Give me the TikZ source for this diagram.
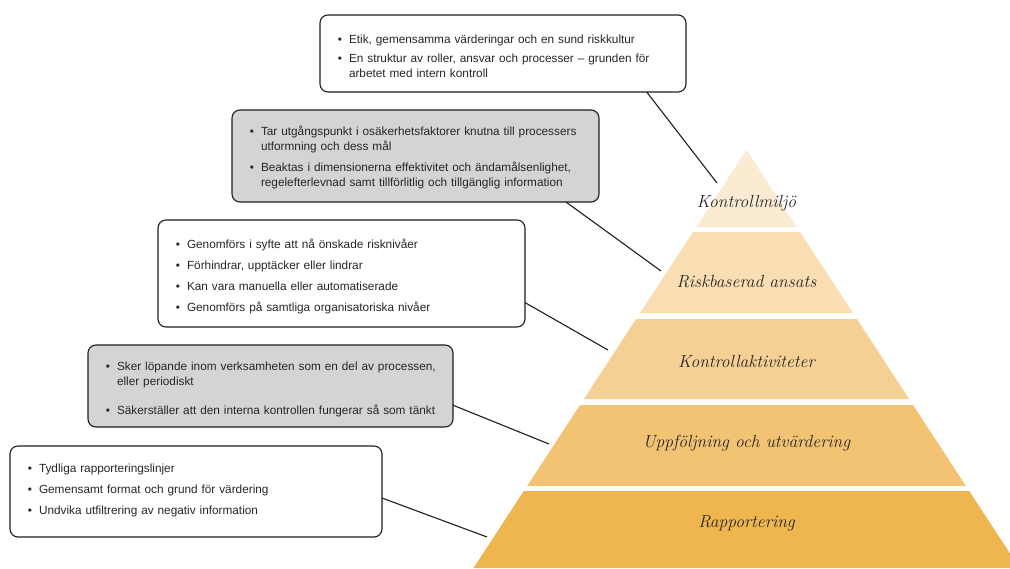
\documentclass[tikz,border=0pt]{standalone}
\usepackage{fontspec}
\setsansfont{Liberation Sans}
\usetikzlibrary{positioning}

\definecolor{niva1}{HTML}{FAEBD3}
\definecolor{niva2}{HTML}{F8DEB2}
\definecolor{niva3}{HTML}{F5D094}
\definecolor{niva4}{HTML}{F2C373}
\definecolor{niva5}{HTML}{EFB54E}
\definecolor{gratt}{HTML}{D4D4D6}
\definecolor{kant}{HTML}{1E1E1E}

\newenvironment{punkter}[1][6pt]{%
    \begin{list}{\textbullet}{%
        \setlength{\leftmargin}{21pt}\setlength{\labelwidth}{10pt}%
        \setlength{\labelsep}{7pt}\setlength{\rightmargin}{-6pt}%
        \setlength{\itemsep}{#1}\setlength{\parsep}{0pt}%
        \setlength{\topsep}{0pt}\setlength{\partopsep}{0pt}}}%
    {\end{list}}

\tikzset{
    ruta/.style={draw=kant, line width=1.1pt, rounded corners=8pt, fill=white,
        inner xsep=8pt, inner ysep=4pt, outer sep=0pt, anchor=north west, align=left,
        text=black!85, font=\sffamily\fontsize{11.8}{15}\selectfont},
    gruta/.style={ruta, fill=gratt},
    etikett/.style={anchor=base, text=black!85, font=\itshape\fontsize{17.5}{20}\selectfont},
    linje/.style={draw=kant, line width=1.1pt}
}

\begin{document}
\begin{tikzpicture}[x=1pt,y=-1pt]
    \clip (0,0) rectangle (1010,568);
    \fill[white] (0,0) rectangle (1010,568);

    \fill[niva1] (746.5,150) -- (796.8,227) -- (696.2,227) -- cycle;
    \fill[niva2] (693.0,232) -- (800.0,232) -- (852.9,313) -- (640.1,313) -- cycle;
    \fill[niva3] (636.1,319) -- (856.9,319) -- (909.1,399) -- (583.9,399) -- cycle;
    \fill[niva4] (580.0,405) -- (913.0,405) -- (965.9,486) -- (527.1,486) -- cycle;
    \fill[niva5] (523.8,491) -- (969.2,491) -- (1019.5,568) -- (473.5,568) -- cycle;

    \node[etikett] (miljo)     at (746.5,207) {Kontrollmiljö};
    \node[etikett] (risk)      at (746.5,287) {Riskbaserad ansats};
    \node[etikett] (aktivitet) at (746.5,367) {Kontrollaktiviteter};
    \node[etikett] (uppfolj)   at (746.5,447) {Uppföljning och utvärdering};
    \node[etikett] (rapport)   at (746.5,527) {Rapportering};

    \node[ruta, text width=350pt, minimum height=77pt] (miljoruta) at (320,15) {%
        \begin{punkter}[4pt]
        \item Etik, gemensamma värderingar och en sund riskkultur
        \item En struktur av roller, ansvar och processer – grunden för\\arbetet med intern kontroll
        \end{punkter}};
    \node[gruta, text width=351pt, minimum height=92pt] (riskruta) at (232,110) {%
        \begin{punkter}[6pt]
        \item Tar utgångspunkt i osäkerhetsfaktorer knutna till processers\\utformning och dess mål
        \item Beaktas i dimensionerna effektivitet och ändamålsenlighet,\\regelefterlevnad samt tillförlitlig och tillgänglig information
        \end{punkter}\par\vspace*{3pt}};
    \node[ruta, text width=351pt, minimum height=107pt] (aktivruta) at (158,220) {%
        \begin{punkter}
        \item Genomförs i syfte att nå önskade risknivåer
        \item Förhindrar, upptäcker eller lindrar
        \item Kan vara manuella eller automatiserade
        \item Genomförs på samtliga organisatoriska nivåer
        \end{punkter}};
    \node[gruta, text width=349pt, minimum height=82pt] (uppfoljruta) at (88,345) {%
        \begin{punkter}[14pt]
        \item Sker löpande inom verksamheten som en del av processen,\\eller periodiskt
        \item Säkerställer att den interna kontrollen fungerar så som tänkt
        \end{punkter}};
    \node[ruta, text width=356pt, minimum height=91pt] (rappruta) at (10,446) {%
        \begin{punkter}
        \item Tydliga rapporteringslinjer
        \item Gemensamt format och grund för värdering
        \item Undvika utfiltrering av negativ information
        \end{punkter}\par\vspace*{8pt}};

    \coordinate (miljo-in)     at (717,183);
    \coordinate (risk-in)      at (661,271);
    \coordinate (aktivitet-in) at (608,350);
    \coordinate (uppfolj-in)   at (549,444);
    \coordinate (rapport-in)   at (487,537);

    \draw[linje] (miljoruta.-15)   -- (miljo-in);
    \draw[linje] (riskruta.-17.5)  -- (risk-in);
    \draw[linje] (aktivruta.-9.7)  -- (aktivitet-in);
    \draw[linje] (uppfoljruta.-6)  -- (uppfolj-in);
    \draw[linje] (rappruta.-2)     -- (rapport-in);
\end{tikzpicture}
\end{document}
